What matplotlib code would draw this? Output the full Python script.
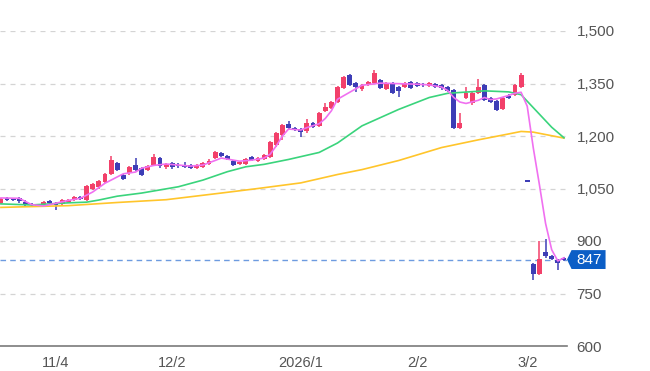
import numpy as np
import matplotlib
matplotlib.use('Agg')
import matplotlib.pyplot as plt
from matplotlib.patches import Polygon
from matplotlib.transforms import blended_transform_factory
from matplotlib.ticker import StrMethodFormatter

plt.rcParams['font.family'] = ['Liberation Sans', 'DejaVu Sans']

# ---- daily candles (trading-day offset from 11/4) ----
first_day = -9
opens = [1010, 1022, 1020, 1022, 1012, 1006, 1004, 1002, 1013,
         1008, 1005, 1012, 1016, 1026, 1018, 1050, 1055, 1069, 1092,
         1122, 1089, 1094, 1117, 1109, 1104, 1117, 1137, 1111, 1123,
         1118, 1117, 1117, 1110, 1111, 1120, 1137, 1151, 1143, 1129,
         1120, 1120, 1140, 1129, 1134, 1140, 1174, 1203, 1234, 1223,
         1220, 1214, 1237, 1229, 1271, 1280, 1297, 1337, 1374, 1351,
         1334, 1346, 1351, 1360, 1334, 1351, 1340, 1340, 1354, 1351,
         1349, 1343, 1349, 1346, 1340, 1331, 1223, 1309, 1294, 1323,
         1346, 1309, 1300, 1277, 1313, 1317, 1340, 1070, 835, 806,
         869, 857, 845, 852]
highs = [1024, 1025, 1024, 1026, 1016, 1009, 1007, 1013, 1016,
         1011, 1019, 1021, 1029, 1030, 1060, 1066, 1075, 1095, 1142,
         1126, 1092, 1114, 1137, 1112, 1118, 1149, 1140, 1124, 1127,
         1122, 1126, 1120, 1119, 1126, 1133, 1157, 1154, 1146, 1132,
         1129, 1137, 1143, 1140, 1149, 1186, 1212, 1234, 1243, 1226,
         1223, 1249, 1240, 1269, 1294, 1300, 1343, 1372, 1377, 1354,
         1349, 1357, 1389, 1363, 1354, 1354, 1343, 1354, 1357, 1354,
         1352, 1354, 1352, 1349, 1343, 1334, 1266, 1340, 1326, 1363,
         1349, 1312, 1303, 1312, 1320, 1349, 1380, 1070, 838, 900,
         906, 860, 848, 855]
lows = [1006, 1014, 1013, 1010, 1000, 998, 996, 999, 1004,
        990, 1002, 1009, 1013, 1016, 1015, 1046, 1050, 1066, 1088,
        1100, 1073, 1090, 1100, 1085, 1100, 1114, 1110, 1107, 1106,
        1109, 1108, 1105, 1106, 1108, 1117, 1133, 1139, 1131, 1114,
        1116, 1117, 1128, 1126, 1131, 1137, 1170, 1189, 1219, 1213,
        1197, 1210, 1222, 1226, 1268, 1277, 1294, 1334, 1343, 1326,
        1330, 1343, 1348, 1334, 1331, 1320, 1311, 1337, 1334, 1340,
        1341, 1340, 1337, 1332, 1326, 1220, 1220, 1306, 1290, 1320,
        1300, 1294, 1271, 1274, 1307, 1314, 1337, 1070, 790, 803,
        852, 846, 818, 843]
closes = [1020, 1018, 1017, 1014, 1004, 1002, 1000, 1011, 1008,
          1004, 1016, 1018, 1026, 1019, 1057, 1062, 1071, 1091, 1132,
          1103, 1077, 1111, 1103, 1089, 1114, 1140, 1114, 1120, 1111,
          1113, 1112, 1109, 1116, 1123, 1129, 1154, 1143, 1134, 1117,
          1126, 1134, 1131, 1137, 1146, 1183, 1209, 1231, 1223, 1217,
          1211, 1237, 1226, 1266, 1283, 1297, 1340, 1369, 1346, 1340,
          1346, 1354, 1380, 1337, 1351, 1323, 1330, 1351, 1337, 1343,
          1345, 1351, 1340, 1336, 1329, 1223, 1237, 1323, 1323, 1340,
          1303, 1297, 1274, 1309, 1310, 1346, 1374, 1070, 805, 849,
          858, 850, 838, 847]

# ---- moving averages (day offset, value) ----
ma_short_day = [-9, -6, -4, -2, 0, 2, 4, 6, 8, 10, 11, 13, 14, 16, 18, 20,
                22, 24, 26, 27, 30, 32, 34, 35, 36, 37, 38, 40, 41, 43, 44,
                45, 46, 48, 50, 53, 57, 59, 61, 63, 64, 65, 66, 67, 69, 70,
                71, 72, 74, 75, 76, 77, 78, 79, 80, 81, 82, 83]
ma_short_val = [1023, 1022, 1004, 1000, 1008, 1016, 1022, 1040, 1065, 1083,
                1092, 1097, 1108, 1116, 1120, 1117, 1114, 1117, 1130, 1137,
                1128, 1131, 1137, 1148, 1172, 1200, 1220, 1217, 1224, 1235,
                1250, 1272, 1305, 1325, 1345, 1351, 1349, 1348, 1346, 1340,
                1330, 1310, 1297, 1293, 1302, 1310, 1304, 1306, 1316, 1322,
                1325, 1285, 1165, 1060, 950, 875, 843, 852]
ma_mid_day = [-9, -4, 2, 5, 7, 10, 14, 20, 24, 28, 31, 34, 38, 43, 46, 50,
              56, 61, 64, 70, 74, 76, 81, 83]
ma_mid_val = [1006, 1003, 1009, 1011, 1017, 1028, 1037, 1055, 1074, 1098,
              1112, 1119, 1133, 1153, 1180, 1229, 1276, 1310, 1322, 1329,
              1326, 1318, 1225, 1195]
ma_long_day = [-9, 2, 10, 18, 27, 33, 40, 46, 50, 56, 63, 69, 74, 76, 78, 83]
ma_long_val = [996, 1001, 1010, 1018, 1037, 1050, 1066, 1090, 1104, 1130,
               1167, 1189, 1206, 1213, 1211, 1194]

last_price = 847
tick_days = [0, 19, 40, 59, 77]
tick_labels = ['11/4', '12/2', '2026/1', '2/2', '3/2']
y_ticks = [600, 750, 900, 1050, 1200, 1350, 1500]

UP = '#f2406a'
DOWN = '#3d3db6'

fig = plt.figure(figsize=(6.5, 3.71), dpi=100)
ax = fig.add_axes([0, 25 / 371, 567 / 650, 315 / 371])

days = np.arange(len(opens)) + first_day
o = np.array(opens); h = np.array(highs); l = np.array(lows); c = np.array(closes)
col = np.where(c > o, UP, DOWN)
bottom = np.minimum(o, c)
height = np.maximum(np.abs(c - o), 4)
ax.vlines(days, l, h, colors=col, lw=1.1, zorder=2)
ax.bar(days, height, bottom=bottom, width=0.8, color=col, zorder=2)

ax.plot(ma_long_day, ma_long_val, color='#ffc52b', lw=1.2, zorder=3)
ax.plot(ma_mid_day, ma_mid_val, color='#3ad47c', lw=1.2, zorder=3)
ax.plot(ma_short_day, ma_short_val, color='#f070f0', lw=1.2, zorder=3)

# grid
for yv in y_ticks[1:]:
    ax.axhline(yv, color='#d4d4d4', lw=0.9, ls=(0, (4, 4)), zorder=0)
ax.axhline(last_price, color='#6d9be0', lw=1.0, ls=(0, (4, 3)), zorder=1)

ax.set_xlim(-9.15, 83.5)
ax.set_ylim(600, 1500)
for s in ['top', 'right', 'left']:
    ax.spines[s].set_visible(False)
ax.spines['bottom'].set_color('#7a7a7a')
ax.spines['bottom'].set_linewidth(1.2)

ax.set_xticks(tick_days)
ax.set_xticklabels(tick_labels)
ax.yaxis.tick_right()
ax.set_yticks(y_ticks)
ax.yaxis.set_major_formatter(StrMethodFormatter('{x:,.0f}'))
ax.tick_params(axis='x', length=0, pad=7, labelsize=10.5, colors='#555555')
ax.tick_params(axis='y', length=0, pad=7, labelsize=11, colors='#555555')
ax.patch.set_alpha(0)

# last price tag
tr = blended_transform_factory(ax.transAxes, ax.transData)
tag = Polygon([[1.0, last_price], [1.008, 874], [1.068, 874], [1.068, 820],
               [1.008, 820]], closed=True, transform=tr, clip_on=False,
              facecolor='#0b5ec6', edgecolor='none', zorder=5)
ax.add_patch(tag)
ax.text(1.039, last_price, str(last_price), transform=tr, color='white',
        fontsize=11, ha='center', va='center', zorder=6, clip_on=False)

fig.savefig('out.png', dpi=100)
